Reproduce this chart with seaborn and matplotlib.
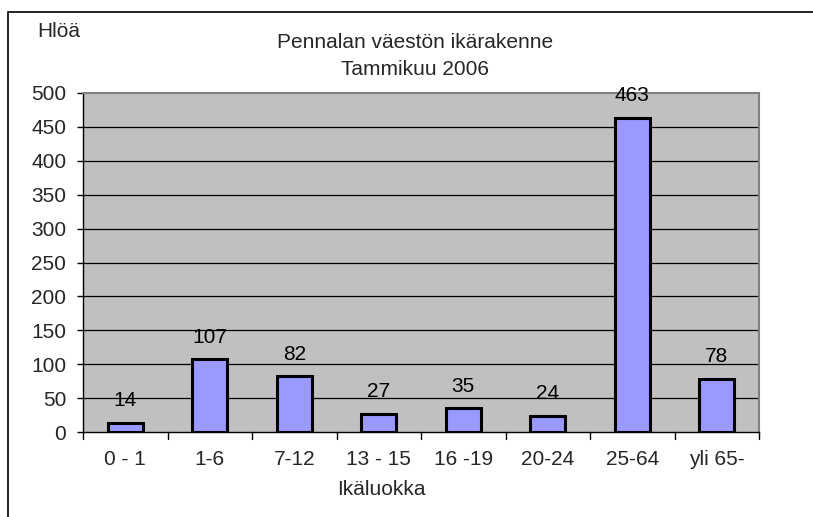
import matplotlib
matplotlib.use("Agg")
import matplotlib.pyplot as plt
import seaborn as sns
import pandas as pd
from matplotlib.patches import Rectangle

categories = ["0 - 1", "1-6", "7-12", "13 - 15", "16 -19", "20-24", "25-64", "yli 65-"]
values = [14, 107, 82, 27, 35, 24, 463, 78]
yticks = [0, 50, 100, 150, 200, 250, 300, 350, 400, 450, 500]

sns.set_theme(style="white")
plt.rcParams['font.family'] = ['Liberation Sans', 'DejaVu Sans']

FS = 15
W, H = 813, 517
fig = plt.figure(figsize=(W / 100, H / 100), dpi=100)
left, right, top, bottom = 83, 759, 93, 432
ax = fig.add_axes([left / W, 1 - bottom / H, (right - left) / W, (bottom - top) / H])

df = pd.DataFrame({"cat": categories, "val": values})
sns.barplot(data=df, x="cat", y="val", ax=ax, color="#9999ff", saturation=1,
            width=0.41, edgecolor="black", linewidth=2.2, zorder=3)

ax.set_facecolor("#c0c0c0")
ax.set_ylim(0, 500)
ax.set_xlim(-0.5, len(categories) - 0.5)
ax.set_yticks(yticks)
ax.set_yticklabels([str(v) for v in yticks], fontsize=FS)
for y in yticks[1:-1]:
    ax.axhline(y, color="black", linewidth=0.9, zorder=1)

ax.set_xticks([i for i in range(len(categories))])
ax.set_xticklabels(categories, fontsize=FS)
ax.tick_params(axis="x", length=0, pad=13)
for b in range(len(categories) + 1):
    ax.plot([b - 0.5, b - 0.5], [0, -0.02], transform=ax.get_xaxis_transform(),
            color="black", linewidth=1, clip_on=False)
ax.tick_params(axis="y", length=4.5, width=1, color="black", left=True, pad=7.5)

for s in ["top", "right"]:
    ax.spines[s].set_color("#808080")
    ax.spines[s].set_linewidth(1.5)
for s in ["left", "bottom"]:
    ax.spines[s].set_color("black")
    ax.spines[s].set_linewidth(1)
ax.spines["bottom"].set_zorder(4)

ax.set_xlabel("")
ax.set_ylabel("")

for i, v in enumerate(values):
    ax.annotate(str(v), (i, v), xytext=(0, 12), textcoords="offset points",
                ha="center", va="baseline", fontsize=FS, color="black")

fig.text(415 / W, 1 - 48 / H, "Pennalan väestön ikärakenne", ha="center", va="baseline", fontsize=15)
fig.text(415 / W, 1 - 75 / H, "Tammikuu 2006", ha="center", va="baseline", fontsize=15)
fig.text(37 / W, 1 - 37 / H, "Hlöä", ha="left", va="baseline", fontsize=FS)
fig.text(381 / W, 1 - 495 / H, "Ikäluokka", ha="center", va="baseline", fontsize=FS)

fig.patches.append(Rectangle((8 / W, -0.1), 1.2, 1 - 12 / H + 0.1, transform=fig.transFigure,
                             fill=False, edgecolor="black", linewidth=1.2))

fig.savefig("out.png", dpi=100)
